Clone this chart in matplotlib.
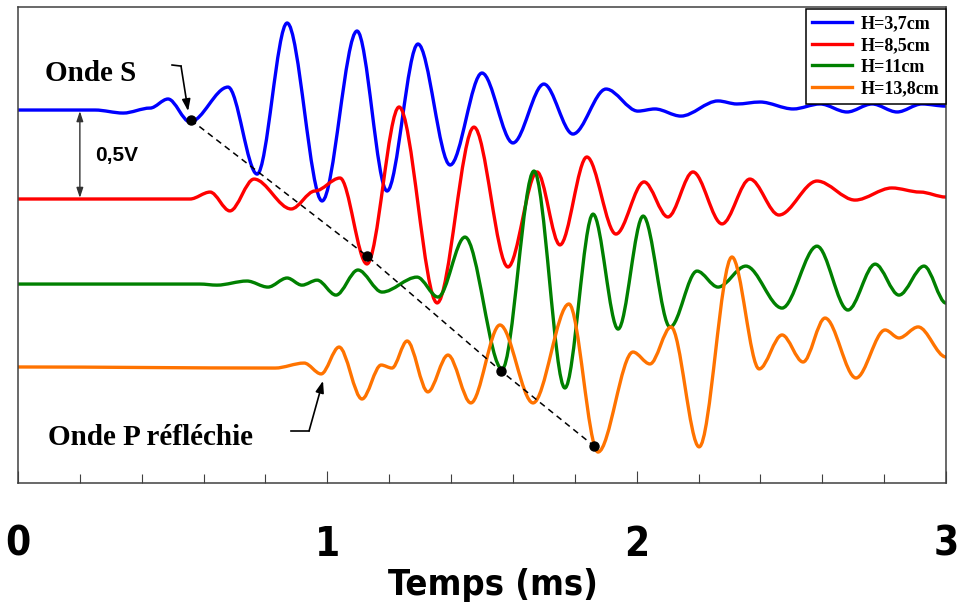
import matplotlib
matplotlib.use('Agg')
import matplotlib.pyplot as plt
from matplotlib.path import Path
from matplotlib.patches import PathPatch
from matplotlib.lines import Line2D
from matplotlib.ticker import MultipleLocator

################################################################################
# Données (temps en ms, amplitude en V par rapport à la ligne de base)

labels = ['H=3,7cm', 'H=8,5cm', 'H=11cm', 'H=13,8cm']
colors = ['#0000ff', '#ff0000', '#008000', '#ff7300']
offsets = [0.0, -0.5, -0.978, -1.444]

t_blue = [0.0, 0.249, 0.340, 0.427, 0.485, 0.556, 0.679, 0.773, 0.870, 0.983, 1.096, 1.193,
          1.293, 1.397, 1.500, 1.600, 1.700, 1.794, 1.901, 2.004, 2.059, 2.143, 2.263, 2.324,
          2.399, 2.506, 2.593, 2.680, 2.761, 2.842, 2.922, 3.0]
v_blue = [0.0, 0.0, -0.017, 0.011, 0.062, -0.067, 0.129, -0.360, 0.489, -0.511, 0.444, -0.455,
          0.371, -0.309, 0.208, -0.185, 0.146, -0.135, 0.118, -0.006, 0.006, -0.034, 0.051, 0.034,
          0.045, 0.006, 0.034, -0.011, 0.034, -0.011, 0.034, 0.022]

t_red = [0.0, 0.556, 0.621, 0.685, 0.763, 0.883, 0.960, 1.041, 1.128, 1.232, 1.355, 1.474,
         1.584, 1.678, 1.752, 1.839, 1.933, 2.024, 2.101, 2.182, 2.276, 2.366, 2.460, 2.583,
         2.706, 2.825, 2.916, 3.0]
v_red = [0.0, 0.0, 0.039, -0.067, 0.112, -0.056, 0.045, 0.118, -0.365, 0.517, -0.584, 0.404,
         -0.382, 0.152, -0.258, 0.236, -0.197, 0.096, -0.101, 0.152, -0.140, 0.112, -0.090, 0.101,
         -0.006, 0.062, 0.039, 0.011]

t_green = [0.0, 0.588, 0.643, 0.740, 0.808, 0.870, 0.918, 0.967, 1.028, 1.099, 1.177, 1.290,
           1.358, 1.445, 1.565, 1.668, 1.768, 1.859, 1.940, 2.021, 2.108, 2.195, 2.263, 2.353,
           2.470, 2.583, 2.683, 2.771, 2.848, 2.929, 3.0]
v_green = [0.0, 0.0, -0.006, 0.017, -0.017, 0.034, -0.006, 0.022, -0.062, 0.079, -0.045, 0.039,
           -0.073, 0.264, -0.478, 0.635, -0.584, 0.393, -0.253, 0.382, -0.242, 0.073, -0.017, 0.101,
           -0.135, 0.213, -0.146, 0.112, -0.062, 0.101, -0.107]

t_orange = [0.0, 0.831, 0.925, 0.980, 1.038, 1.112, 1.174, 1.209, 1.258, 1.325, 1.390, 1.464,
            1.558, 1.665, 1.781, 1.875, 1.988, 2.043, 2.111, 2.202, 2.308, 2.396, 2.470, 2.538,
            2.609, 2.709, 2.803, 2.848, 2.910, 3.0]
v_orange = [0.0, -0.006, 0.022, -0.039, 0.112, -0.180, 0.011, -0.006, 0.146, -0.140, 0.067, -0.202,
            0.236, -0.202, 0.354, -0.478, 0.084, 0.017, 0.225, -0.449, 0.618, -0.011, 0.180, 0.028,
            0.275, -0.062, 0.208, 0.163, 0.225, 0.056]

traces_t = [t_blue, t_red, t_green, t_orange]
traces_v = [v_blue, v_red, v_green, v_orange]

# pointés des arrivées (temps, amplitude absolue sur le graphe)
pick_t = [0.559, 1.128, 1.561, 1.862]
pick_v = [-0.056, -0.820, -1.466, -1.888]

################################################################################

def smooth_path(t, v):
	# courbe de Bézier passant par les extrema lus (tangentes horizontales)
	verts = [(t[0], v[0])]
	codes = [Path.MOVETO]
	for i in range(1, len(t)):
		dt = (t[i] - t[i-1]) / 3
		verts += [(t[i-1] + dt, v[i-1]), (t[i] - dt, v[i]), (t[i], v[i])]
		codes += [Path.CURVE4] * 3
	return Path(verts, codes)

serif = ['Liberation Serif', 'DejaVu Serif']
sans = ['Liberation Sans', 'DejaVu Sans']
narrow = ['DejaVu Sans']

fig = plt.figure(figsize=(9.59, 6.08), dpi=100)
ax = fig.add_axes([18/959, 1-483/608, (946-18)/959, (483-7)/608])

handles = []
for t, v, off, c, lab in zip(traces_t, traces_v, offsets, colors, labels):
	path = smooth_path(t, [x + off for x in v])
	ax.add_patch(PathPatch(path, fill=False, edgecolor=c, lw=2.4, joinstyle='round', capstyle='round'))
	handles.append(Line2D([], [], color=c, lw=2.4, label=lab))

ax.plot(pick_t, pick_v, '--', color='black', lw=1.1, dashes=(4, 3))
ax.plot(pick_t, pick_v, 'o', color='black', ms=6.5)

ax.set_xlim(0, 3)
ax.set_ylim(-2.096, 0.579)

# annotations
ax.text(0.087, 0.208, 'Onde S', family=serif, weight='bold', fontsize=21, ha='left', va='center')
ax.plot([0.498, 0.527], [0.253, 0.247], color='black', lw=1.2)
ax.annotate('', xy=(0.550, -0.006), xytext=(0.527, 0.247),
	arrowprops=dict(arrowstyle='-|>,head_length=0.7,head_width=0.25', color='black', lw=1.2, shrinkA=0, shrinkB=0))

ax.text(0.097, -1.843, 'Onde P réfléchie', family=serif, weight='bold', fontsize=21, ha='left', va='center')
ax.plot([0.883, 0.941], [-1.803, -1.803], color='black', lw=1.2)
ax.annotate('', xy=(0.986, -1.522), xytext=(0.941, -1.803),
	arrowprops=dict(arrowstyle='-|>,head_length=0.7,head_width=0.25', color='black', lw=1.2, shrinkA=0, shrinkB=0))

ax.annotate('', xy=(0.2, -0.006), xytext=(0.2, -0.494),
	arrowprops=dict(arrowstyle='<|-|>,head_length=0.6,head_width=0.2', color='#333333', lw=1.0, shrinkA=0, shrinkB=0))
ax.text(0.249, -0.253, '0,5V', family=sans, weight='bold', fontsize=15, ha='left', va='center')

# axes
for s in ax.spines.values():
	s.set_color('#404040')
	s.set_linewidth(1.1)
ax.set_yticks([])
ax.xaxis.set_major_locator(MultipleLocator(1))
ax.xaxis.set_minor_locator(MultipleLocator(0.2))
ax.tick_params(axis='x', which='major', direction='in', length=9, width=0.8, color='#404040', pad=30)
ax.tick_params(axis='x', which='minor', direction='in', length=6.5, width=0.8, color='#404040')
for lab in ax.get_xticklabels():
	lab.set_family(narrow)
	lab.set_stretch('condensed')
	lab.set_weight('bold')
	lab.set_fontsize(29)
ax.set_xlabel('Temps (ms)', family=narrow, fontstretch='condensed', weight='bold', fontsize=26)
ax.xaxis.set_label_coords(0.512, -0.178)

leg = ax.legend(handles=handles, loc='upper right', bbox_to_anchor=(1.0, 0.996),
	prop={'family': serif, 'weight': 'bold', 'size': 13}, frameon=True, fancybox=False,
	framealpha=1, edgecolor='black', handlelength=2.2, handletextpad=0.5, labelspacing=0.26,
	borderpad=0.35, borderaxespad=0)
leg.get_frame().set_linewidth(1.1)

plt.savefig('out.png', dpi=100)
